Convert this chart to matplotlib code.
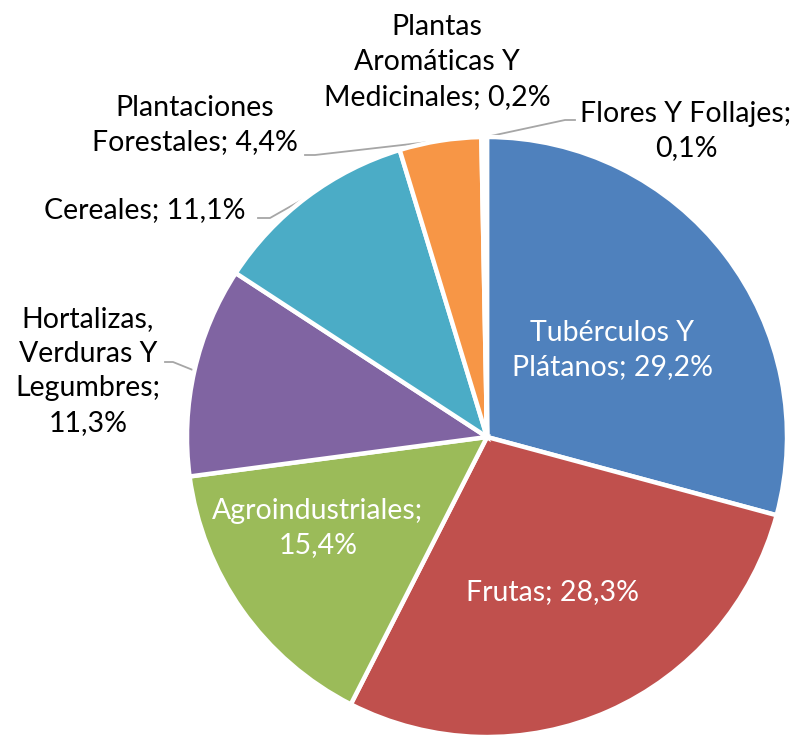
import numpy as np
import matplotlib.pyplot as plt

plt.rcParams['font.family'] = ['Lato', 'DejaVu Sans']

# Participación por grupo de cultivo (%)
grupos = ['Tubérculos Y\nPlátanos', 'Frutas', 'Agroindustriales', 'Hortalizas,\nVerduras Y\nLegumbres',
          'Cereales', 'Plantaciones\nForestales', 'Plantas\nAromáticas Y\nMedicinales', 'Flores Y Follajes']
porcentajes = [29.2, 28.3, 15.4, 11.3, 11.1, 4.4, 0.2, 0.1]
colores = ['#4F81BD', '#C0504D', '#9BBB59', '#8064A2', '#4BACC6', '#F79646', '#2C4D75', '#772C2A']

W, H = 798, 737
fig = plt.figure(figsize=(W / 100, H / 100), dpi=100)
ax = fig.add_axes([0, 0, 1, 1])

cx, cy, r = 487, H - 437, 300
wedges, _ = ax.pie(porcentajes, colors=colores, startangle=90, counterclock=False,
                   radius=r, center=(cx, cy), frame=True,
                   wedgeprops=dict(edgecolor='white', linewidth=3.2))
ax.set_xlim(0, W)
ax.set_ylim(0, H)
ax.set_aspect('equal')
ax.axis('off')


def etiqueta(i, sep='; '):
    pct = f'{porcentajes[i]:.1f}'.replace('.', ',') + '%'
    return grupos[i] + sep + pct


def punto_medio(i, rad=r):
    w = wedges[i]
    ang = np.deg2rad((w.theta1 + w.theta2) / 2)
    return cx + rad * np.cos(ang), cy + rad * np.sin(ang)


fs = 20.5
ls = 1.42
gris = '#A6A6A6'

# etiquetas internas
ax.text(612, H - 350, etiqueta(0), color='white', fontsize=fs, ha='center', va='center', linespacing=ls)
ax.text(552, H - 592, etiqueta(1), color='white', fontsize=fs, ha='center', va='center')
ax.text(318, H - 528, etiqueta(2, ';\n'), color='white', fontsize=fs, ha='center', va='center', linespacing=ls)

# etiquetas externas
ax.text(88, H - 371, etiqueta(3, ';\n'), color='black', fontsize=fs, ha='center', va='center', linespacing=ls)
ax.text(145, H - 210, etiqueta(4), color='black', fontsize=fs, ha='center', va='center')
ax.text(195, H - 125, etiqueta(5), color='black', fontsize=fs, ha='center', va='center', linespacing=ls)
ax.text(437, H - 62, etiqueta(6), color='black', fontsize=fs, ha='center', va='center', linespacing=ls)
ax.text(686, H - 131, etiqueta(7, ';\n'), color='black', fontsize=fs, ha='center', va='center', linespacing=ls)

# líneas guía
guias = {3: [(165, H - 362), (173, H - 362)],
         4: [(258, H - 218), (270, H - 218)],
         5: [(305, H - 155), (315, H - 155)],
         7: [(575, H - 120), (565, H - 120)]}
for i, pts in guias.items():
    px, py = punto_medio(i)
    xs = [p[0] for p in pts] + [px]
    ys = [p[1] for p in pts] + [py]
    ax.plot(xs, ys, color=gris, linewidth=1.3, zorder=0.5)

fig.savefig('out.png', dpi=100, facecolor='white')
